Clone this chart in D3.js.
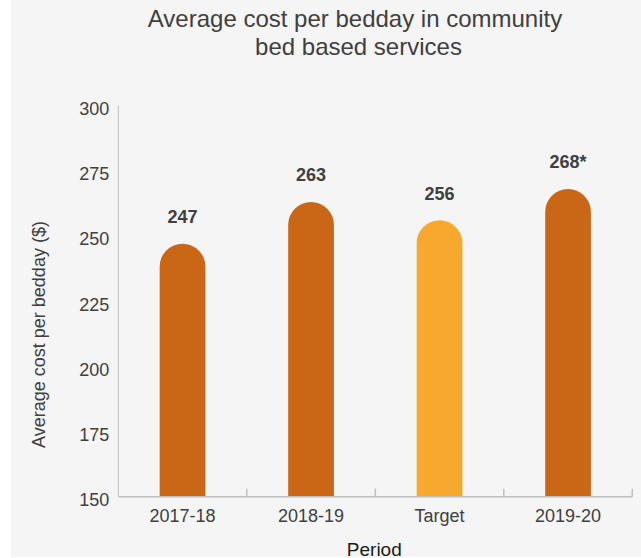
<!DOCTYPE html>
<html>
<head>
<meta charset="utf-8">
<script src="https://cdn.jsdelivr.net/npm/d3@7/dist/d3.min.js"></script>
<style>
  html, body { margin: 0; padding: 0; background: #ffffff; }
  svg { display: block; font-family: "Liberation Sans", Arial, sans-serif; }
</style>
</head>
<body>
<script>
const categories = ["2017-18", "2018-19", "Target", "2019-20"];
const values = [247, 263, 256, 268];
const valueLabels = ["247", "263", "256", "268*"];
const barColors = ["#c96716", "#c96716", "#f6a92e", "#c96716"];
const yTicks = [150, 175, 200, 225, 250, 275, 300];
const titleLines = ["Average cost per bedday in community", "bed based services"];
const yAxisTitle = "Average cost per bedday ($)";
const xAxisTitle = "Period";

(function () {
const W = 641, H = 558;
const svg = d3.select("body").append("svg").attr("width", W).attr("height", H);

svg.append("rect").attr("x", 11).attr("y", 0).attr("width", W - 11).attr("height", 557)
  .attr("fill", "#f5f5f5");

const plotLeft = 118.3, plotRight = 632.3, plotTop = 105.5, plotBottom = 496.7;
const x = d3.scaleBand().domain(categories).range([plotLeft, plotRight]).padding(0);
const y = d3.scaleLinear().domain([150, 300]).range([plotBottom, plotTop]);

const textColor = "#404040";
const axisColor = "#bfbfbf";

// Title
svg.append("text").attr("x", 355).attr("y", 26.7).attr("text-anchor", "middle")
  .attr("font-size", 24).attr("fill", textColor).text(titleLines[0]);
svg.append("text").attr("x", 358.5).attr("y", 55).attr("text-anchor", "middle")
  .attr("font-size", 24).attr("fill", textColor).text(titleLines[1]);

// Y axis line
svg.append("line").attr("x1", plotLeft).attr("x2", plotLeft).attr("y1", plotTop).attr("y2", plotBottom)
  .attr("stroke", axisColor).attr("stroke-width", 1);

// Y tick labels
svg.selectAll("text.ytick").data(yTicks).enter().append("text")
  .attr("class", "ytick")
  .attr("x", plotLeft - 9)
  .attr("y", d => y(d) + 9.5)
  .attr("text-anchor", "end")
  .attr("font-size", 18).attr("fill", textColor)
  .text(d => d);

// Bars with rounded tops
const bw = x.bandwidth() * 0.356;
const r = bw / 2;
svg.selectAll("path.bar").data(values).enter().append("path")
  .attr("class", "bar")
  .attr("fill", (d, i) => barColors[i])
  .attr("d", (d, i) => {
    const cx = x(categories[i]) + x.bandwidth() / 2;
    const x0 = cx - r, x1 = cx + r;
    const yt = y(d);
    return `M${x0},${plotBottom} L${x0},${yt + r} A${r},${r} 0 0 1 ${x1},${yt + r} L${x1},${plotBottom} Z`;
  });

// Value labels
svg.selectAll("text.val").data(values).enter().append("text")
  .attr("class", "val")
  .attr("x", (d, i) => x(categories[i]) + x.bandwidth() / 2)
  .attr("y", d => y(d) - 20.7)
  .attr("text-anchor", "middle")
  .attr("font-size", 18).attr("font-weight", "bold").attr("fill", textColor)
  .text((d, i) => valueLabels[i]);

// X axis line
svg.append("line").attr("x1", plotLeft).attr("x2", plotRight).attr("y1", plotBottom).attr("y2", plotBottom)
  .attr("stroke", axisColor).attr("stroke-width", 1.5);

// X ticks at band boundaries (pointing up)
const boundaries = categories.map(c => x(c)).concat([plotRight]);
svg.selectAll("line.xtick").data(boundaries.slice(1)).enter().append("line")
  .attr("class", "xtick")
  .attr("x1", d => d).attr("x2", d => d)
  .attr("y1", plotBottom).attr("y2", plotBottom - 8)
  .attr("stroke", axisColor).attr("stroke-width", 1.5);

// X tick labels
svg.selectAll("text.xlab").data(categories).enter().append("text")
  .attr("class", "xlab")
  .attr("x", d => x(d) + x.bandwidth() / 2)
  .attr("y", plotBottom + 25.6)
  .attr("text-anchor", "middle")
  .attr("font-size", 18).attr("fill", textColor)
  .text(d => d);

// Axis titles
svg.append("text").attr("x", (plotLeft + plotRight) / 2 - 1).attr("y", 555.5)
  .attr("text-anchor", "middle").attr("font-size", 19).attr("fill", "#1a1a1a")
  .text(xAxisTitle);

svg.append("text")
  .attr("transform", "translate(45,334.5) rotate(-90)")
  .attr("text-anchor", "middle").attr("font-size", 18).attr("fill", textColor)
  .text(yAxisTitle);
})();
</script>
</body>
</html>
